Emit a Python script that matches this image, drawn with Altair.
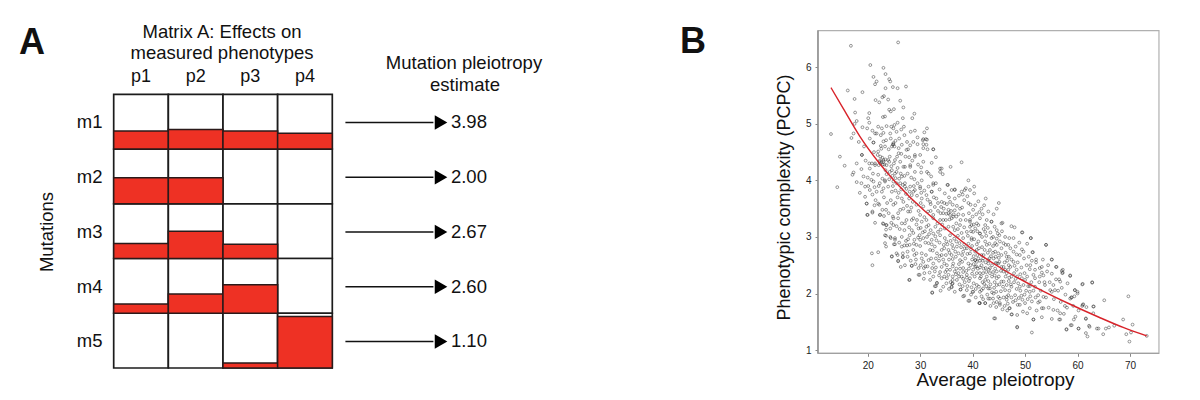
import altair as alt
import pandas as pd

# Panel A values
phenotypes = ["p1", "p2", "p3", "p4"]
mutations = ["m1", "m2", "m3", "m4", "m5"]
pleiotropy = ["3.98", "2.00", "2.67", "2.60", "1.10"]
effects = [
    [0.33, 0.355, 0.33, 0.29],
    [0.475, 0.475, 0.0, 0.0],
    [0.275, 0.50, 0.26, 0.0],
    [0.17, 0.353, 0.523, 0.0],
    [0.0, 0.0, 0.09, 0.94],
]

# Panel B values
curve_x = [13.0, 15.35, 18.5, 22.0, 25.5, 30.6, 35.0, 39.7, 45.9, 52.2, 58.6, 64.1, 68.7, 73.2]
curve_y = [5.64, 5.27, 4.78, 4.33, 3.95, 3.48, 3.14, 2.80, 2.42, 2.10, 1.81, 1.58, 1.40, 1.25]

points = [
 (16.8,6.38),(25.8,6.44),(20.5,6.04),(23,5.99),(23.4,5.88),(21.1,5.83),(24.1,5.79),(24.3,5.75),(21.7,5.75),(21.4,5.7),
 (16.2,5.59),(19,5.56),(23.4,5.63),(24.8,5.65),(25.7,5.63),(27.3,5.66),(17.5,5.44),(21.5,5.42),(22.2,5.38),(22.8,5.47),
 (23.1,5.49),(23.9,5.43),(26.2,5.41),(26.8,5.29),(25,5.26),(24.1,5.25),(24.4,5.22),(17.6,5.2),(20.3,5.19),(20.1,5.1),
 (17.9,5.05),(17.5,5),(28.9,5.18),(28.5,5.1),(26.7,5.1),(23.3,5.13),(22.9,5.12),(13,4.82),(16.9,4.75),(17.3,4.83),
 (18.3,4.68),(19,4.94),(19.9,4.92),(20.3,5.02),(14.7,4.42),(15.6,4.26),(14.2,3.88),(17.9,4.3),(18.9,4.45),(17.3,4.14),
 (17.9,3.97),(17.1,4.1),(31.3,4.92),(30.8,4.85),(29,4.88),(28.2,4.86),(30.6,4.73),(31.3,4.72),(29.5,4.64),(31.2,4.63),
 (32.5,4.55),(30.6,4.57),(33,4.41),(37.9,4.32),(35.8,4.24),(33.8,4.21),(34.1,4.21),(33.8,4.15),(34.3,4.11),(39.2,4),
 (40.3,3.89),(35.3,3.92),(37.9,3.8),(38.5,3.83),(40.3,3.77),(36,3.83),(36.6,3.84),(39.2,3.6),(39.6,3.57),
 (18.9,4.45),(20.4,4.74),(21.4,4.83),(21.1,4.67),(22.5,4.61),(23.5,4.71),(24.8,4.63),(25.5,4.86),(26,4.74),(26.5,4.63),
 (27.7,4.55),(29,4.45),(29.5,4.76),(30.5,4.71),(31.1,4.73),(30.6,4.64),(31.4,4.55),(32.5,4.55),(32.2,4.31),(31.6,4.12),
 (30.2,4.14),(29,4.15),(28.1,4.27),(27.1,4.24),(26.2,4.33),(25.2,4.36),(24.1,4.33),(23,4.33),(22.3,4.35),(21.4,4.3),
 (20.4,4.21),(20.3,4.3),(21.1,3.98),(20.7,4.01),(18.8,3.95),(20.1,3.9),(19.5,3.89),(21.7,3.8),(20.4,3.83),(19.5,3.71),
 (19.8,3.59),(19.9,3.39),(20.9,3.45),(22.2,3.57),(22.7,3.8),(23.3,3.98),(23.9,3.89),(24.9,3.98),(24.6,3.8),(24.4,3.65),
 (24.9,3.57),(23.5,3.48),(22.3,3.39),(24.9,3.33),(25.8,3.42),(26.8,3.62),(26.8,3.5),(27.7,3.45),(28.4,3.74),(29,3.83),
 (30,3.86),(28.1,3.89),(27.1,3.95),(26.2,3.95),(30.3,4),(31.6,3.89),(32.5,3.92),(33,3.95),(33.7,3.84),(32.2,3.8),
 (31.2,3.74),(30.3,3.68),(29.3,3.57),(30.6,3.54),(31.9,3.62),(33.1,3.68),(34.1,3.62),(34.7,3.77),(35.2,3.92),(36.6,3.83),
 (38.7,3.86),(38.4,3.65),(36.6,3.68),(35.7,3.62),(42.5,3.68),(42.2,3.56),(40.5,3.56),(40.1,3.48),(37.6,3.5),(35.4,3.48),
 (34.4,3.42),(35.7,3.39),(36.3,3.36),(38.2,3.39),(39.5,3.3),(41.4,3.33),(42.7,3.3),(33.8,3.3),(32.5,3.33),(31.6,3.21),
 (30,3.39),(28.7,3.33),(27.4,3.3),(26.5,3.24),(24.9,3.21),(23.6,3.21),(36.3,3.18),(39.5,3.18),(41.1,3.21),(34.7,3.15),
 (22.9,3.24),(23.5,3.21),(24.8,3.36),(25.8,3.33),(23.5,3.13),(24.3,3.15),(25.5,3.19),(27.1,3.24),(28.4,3.3),(23.3,3.03),
 (24.4,2.98),(25.2,2.98),(23.3,2.89),(25,2.87),(26.5,2.83),(28,2.86),(28.7,2.77),(25.5,2.71),(24.6,2.65),(25.8,2.58),
 (26.7,2.71),(26.7,2.64),(27.6,2.65),(27.6,2.74),(28.4,2.49),(30.3,2.62),(29.7,2.45),(29.7,2.33),(30.7,2.45),(30.8,2.36),
 (31.8,2.37),(32.8,2.39),(27.9,2.24),(32.3,2.02),(33.2,2.19),(33,2.13),(32.5,2.3),(34.1,2.27),(35.1,2.27),(36.2,2.3),
 (36,2.12),(36.1,2.17),(37.7,2.07),(38.4,1.96),(39.2,1.87),(41.3,1.83),(42.4,1.83),(42,1.9),(38.9,2.06),(40,2.03),
 (41.7,2.06),(43,2.09),(44,2),(45.2,1.91),(45.2,1.8),(43.3,1.91),(46.5,1.89),(46.8,1.97),(30.3,2.71),(29.3,2.71),
 (30,2.95),(30.6,2.98),(31.6,2.89),(32.2,2.95),(32.8,2.83),(31.9,2.77),(33.2,2.71),(34.1,2.68),(35.4,2.77),(36,2.68),
 (37,2.83),(37.3,2.71),(37.6,2.59),(36.3,2.53),(35.1,2.5),(34.1,2.47),(32.5,2.53),(31.6,2.59),(30.6,2.56),(38.2,2.74),
 (39.5,2.71),(40.5,2.59),(40.8,2.77),(39.2,2.53),(38.2,2.45),(37.3,2.36),(36.6,2.39),(40.5,2.47),(40.8,2.36),(39.5,2.27),
 (41.4,2.27),(42.4,2.24),(43.3,2.36),(44.3,2.44),(42.1,2.44),(43,2.53),(44,2.62),(44.9,2.71),(42.1,2.68),(43.3,2.77),
 (44.9,2.53),(45.9,2.39),(46.8,2.42),(44.6,2.27),(45.5,2.21),(46.5,2.15),(34.4,3.3),(35.4,3.18),(32.5,3.06),(33.8,3.03),
 (34.7,2.98),(35.7,3.03),(36.6,3.12),(37.6,3.21),(38.9,3.09),(38.2,2.98),(39.8,2.98),(40.5,3.15),(41.4,3.06),(42.4,2.92),
 (43.6,2.98),(44.3,2.89),(45.2,2.92),(44.6,3.12),(45.5,3.24),(43.6,3.27),(39.5,3.27),(31.2,3.18),(30.3,3.27),(29.7,3.15),
 (35.4,3.42),(36,3.33),(32.5,3.39),(28.1,3.45),(45.7,3.25),(47.4,3.19),(48,3.17),(49.5,3.08),(44.8,3.06),(47,2.98),
 (47.8,2.98),(51.1,2.98),(50.4,2.88),(54,2.86),(49.4,2.78),(51.4,2.73),(47.8,2.74),(48.4,2.69),(49,2.68),(49.8,2.62),
 (52.1,2.6),(53.4,2.6),(55.1,2.6),(51.3,2.58),(50.3,2.5),(52.1,2.55),(55.9,2.47),(57.2,2.42),(57.2,2.37),(58.6,2.32),
 (54.2,2.39),(55.1,2.35),(53.2,2.47),(51.9,2.42),(50.9,2.43),(51.6,2.33),(52.8,2.3),(53.8,2.15),(55.9,2.25),(56.5,2.25),
 (56.7,2.21),(58.1,2.18),(61,2.17),(62.8,2.2),(58.6,1.91),(58.9,1.93),(59.5,2.06),(60,2.03),(61,1.8),(61.7,1.76),
 (63,1.77),(57.6,1.78),(55.1,2.03),(55.7,2.06),(54.8,2.06),(53.5,1.94),(52.8,1.86),(52.5,1.84),(51.3,1.86),(50,1.83),
 (49,1.8),(48.6,1.8),(50.9,1.74),(53.5,1.74),(53.2,1.74),(47.1,1.74),(46.6,1.7),(47.4,1.63),(44.3,1.56),(50.4,1.65),
 (51.6,1.54),(48.5,1.4),(55.4,1.71),(56.2,1.7),(56.7,1.65),(57.4,1.64),(56.5,1.54),(59.3,1.54),(59.6,1.59),(61.6,1.55),
 (57.9,1.37),(58.9,1.44),(60.2,1.38),(62.3,1.41),(64,1.38),(39.8,3.21),(40.8,3.24),(42.4,3.21),(43.6,3.27),(40.1,3.09),
 (41.4,3.06),(42.4,3.09),(43.9,3),(39.8,2.95),(41.1,2.92),(42.7,2.86),(44.6,2.86),(45.9,2.89),(44.3,2.74),(45.5,2.68),
 (46.5,2.65),(47.8,2.56),(40.5,2.74),(41.7,2.68),(43,2.59),(40.5,2.59),(41.7,2.5),(40.1,2.42),(41.4,2.36),(42.7,2.3),
 (43.3,2.45),(44.6,2.53),(44.6,2.39),(45.9,2.47),(46.5,2.36),(47.4,2.3),(48.4,2.42),(49.4,2.27),(49.7,2.15),(48.7,2.18),
 (47.4,2.12),(45.9,2.21),(44.6,2.15),(43.3,2.09),(42,2.09),(40.8,2.15),(40.1,2.03),(41.4,2.03),(43,1.91),(43.9,1.91),
 (44.9,1.94),(45.9,1.93),(46.5,1.94),(45.2,1.83),(42.4,1.83),(41.4,1.83),(48.1,1.97),(50.9,2.03),(52.5,1.97),(49.5,1.89),
 (62.8,2.19),(65.1,1.88),(69.7,1.95),(68.7,1.54),(70.5,1.45),(67,1.43),(66,1.4),(65.4,1.38),(64.9,1.28),(63.7,1.38),
 (69.3,1.28),(70.2,1.31),(69.9,1.15),(73.2,1.25),(61.6,1.3),(61.9,1.24),(60.2,1.38),(58.7,1.44),(57.9,1.36),(62.2,1.43),
 (63.1,1.77),(63,1.65),(61.6,1.56),(60.9,2.16),(59.5,2.06),(60,2),(58.8,1.93),(61.1,1.81),(60.9,1.78),(59.2,1.78),
 (58.6,2.31),(57,2.4),(57.1,2.36),(55.1,2.6),(56,2.47),(54,2.86),(51.5,2.73),(51.1,2.98),(49.4,3.08),(48.5,1.41),
 (51.3,1.31),(44.1,1.56),(47.5,1.63),(47,1.74),(51.6,1.54),(56.7,1.54),
 (21.7,4.83),(21.1,4.67),(22.7,4.92),(23.6,4.96),(24.5,4.95),(25.1,4.98),(25.7,5.02),(24.3,4.83),(24.9,4.64),(25.9,4.57),
 (27.4,4.54),(23,4.69),(22,4.51),(23,4.36),(23.9,4.36),(22.4,4.3),(20.8,4.3),(21.4,4.27),(24.6,4.18),(26.5,4.07),
 (28.1,4.24),(29,4.42),(30,4.45),(30.6,4.33),(26.8,4.24),(25.5,4.15),(23.3,4),(25.5,3.95),(22,4.1),(22.3,3.95),
 (28.7,3.8),(30,3.89),(32.2,3.8),(32.5,3.95),(31.3,4.15),(32.1,4.07),(27.1,3.89),
 (20.8,2.71),(22,2.73),(20.9,2.5),(23.5,2.83),(23.5,3.02),(24.3,3),(25.2,2.95),(25.2,2.87),(24.6,2.66),(25.7,2.68),
 (25.8,2.57),(26.7,2.65),(28,2.24),(29.9,2.33),(32.3,2.01),(36,2.11),(36.2,2.18),(38.2,1.95),(39.4,1.87),(41.3,1.83),
 (37.7,2.07),(33.2,2.18),(32.8,2.13),(28.4,2.49),(19.8,3.59),(20,3.39),(20.9,3.43),(22.4,3.39),(21.3,3.56),(22,3.59),(23,3.23),
 (21.9,4.45),(22.3,4.33),(22.6,4.32),(22.9,4.28),(23.2,4.28),(23.4,4.37),(22.1,4.27),(22.8,4.4),(23.6,4.27),(24.2,4.42),
 (24.5,4.25),(25,4.3),(24.6,4.6),(24.9,4.66),(25.1,4.6),(25.3,4.7),(25.9,4.48),(26.4,4.47),(27.2,4.42),(27.9,4.41),
 (28.5,4.35),(29.6,4.28),(30.2,4.23),(25.7,4.22),(26.3,4.12),(27,4.08),(27.6,4.12),(28.3,4.05),(28.9,4.02),(25.3,4.04),
 (24.7,4.08),(24.1,4.02),(23.6,4.11),(22.8,4.03),(22.1,3.9),(23,3.86),(25.3,3.82),(25.9,3.78),(26.4,3.84),(25.7,3.7),
 (26.5,3.68),(27.3,3.76),(27.9,3.68),(28.6,3.62),(29.4,3.73),(30.1,3.6),(29.7,3.46),(28.3,3.52),(27.5,3.55),(26.2,3.48),
 (25.3,3.6),(23.7,3.6),(23.1,3.7),(21.5,3.65),(22.8,3.48),(21.4,3.25),(23.1,3.37),(24,3.42),(24.5,3.25),(26.1,3.14),
 (27,3.12),(27.9,3.17),(28.7,3.07),(29.3,3.22),(29.9,3.03),(28.9,2.95),(27.7,2.96),(26.5,3),(26,2.9),(27,2.85),
 (27.3,2.93),(29.3,2.86),(30,2.84),(29.2,2.6),(28.9,2.68),(28.2,2.58),(27.1,2.5),(26.3,2.47),(29.1,2.52),(30.1,2.5),
 (31.1,2.68),(31,2.48),(29.4,3.3),(30.8,3.35),(31.2,3.3),(31.5,3.45),(32,3.46),(32.8,3.53),(33.4,3.46),(34,3.53),
 (34.6,3.6),(35.5,3.7),(36.2,3.57),(37,3.55),(37.4,3.73),(38.1,3.75),(39,3.72),(39.5,3.83),(41.1,3.63),(41.7,3.5),
 (41.9,3.4),(43,3.45),(44,3.4),(44.6,3.5),(45,3.6),
 (30.9,3.1),(31.3,3),(32,3.12),(32.9,3.18),(33.3,3.24),(33.9,3.13),(34.2,3.22),(34.9,3.3),(35,3.41),(35.6,3.31),
 (36.4,3.4),(36.9,3.24),(37.2,3.14),(37.9,3.07),(37.2,3.02),(36.5,2.97),(35.8,2.93),(35.2,2.87),(34.5,2.86),(33.7,2.9),
 (33.1,2.94),(32.4,2.76),(33,2.62),(33.6,2.58),(34.4,2.6),(34.9,2.68),(35.5,2.6),(36.2,2.61),(36.8,2.65),(37.4,2.52),
 (38,2.56),(38.6,2.62),(38.9,2.8),(39.2,2.88),(39.9,2.84),(38.4,2.87),(37.8,2.82),(36.3,2.8),(36.7,2.74),(35.7,2.42),
 (34.8,2.38),(33.8,2.38),(33,2.46),(38.8,2.4),(39.3,2.44),(39.9,2.35),(37.9,2.3),(37,2.24),(38.5,2.2),(39,2.13),
 (40.2,2.18),(38.1,2.13),(37.5,2.16),(35,2.18),(34.4,2.12),(35.5,2.08),(33.9,2.05),(36.6,2.03),
 (40.3,2.96),(40.8,2.87),(41.2,2.8),(41.8,2.82),(42.3,2.77),(42.9,2.72),(43.5,2.66),(43.9,2.84),(44.6,2.97),(45.1,3.03),
 (45.6,3.1),(46.2,3),(46.8,2.86),(47.2,2.8),(46.3,2.72),(45.5,2.8),(45,2.63),(44.4,2.54),(43.7,2.5),(42.5,2.45),
 (41.9,2.58),(41.1,2.62),(40.7,2.48),(39.9,2.6),(40.4,2.3),(41,2.44),(41.6,2.3),(42.2,2.17),(43,2.22),(43.7,2.3),
 (44.2,2.2),(45,2.3),(45.4,2.4),(46.1,2.55),(46.9,2.5),(47.4,2.6),(48,2.49),(48.6,2.55),(49.3,2.46),(49.9,2.36),
 (47,2.28),(47.9,2.2),(48.4,2.08),(47,2.05),(46.2,2.06),(45.4,2.04),(44.5,2.03),(43.7,2.02),(49.1,2.05),(49.9,1.98),
 (50.6,2.13),(50.4,2.3),(51.2,2.2),(51.9,2.12),(48.8,1.92),(47.7,1.85),(46.7,1.82),(43.4,1.78),(44.5,1.76),(45.7,1.72),
 (42.8,1.98),(41.7,1.95),(40.6,1.93),(39.7,1.98),
 (52.8,2.45),(53.5,2.32),(54.4,2.5),(54.7,2.2),(55.4,2.15),(53,2.05),(52,1.93),(51,1.95),(50.5,1.9),(54,1.93),
 (55.5,1.9),(56.3,2.05),(57,2.1),(57.7,1.98),(56.8,1.85),(58,1.75),(59.4,1.95),(60.2,1.7),(54.5,1.75),(52.2,1.7),
 (49.6,1.68),(48.5,1.62),(53.2,1.58),(55.1,1.55),
 (22,4.95),(22.5,4.8),(23,4.84),(23.3,4.6),(24,4.55),(24.4,4.74),(25.6,4.42),(26.4,4.9),(27,4.8),(27.5,4.68),
 (28.1,4.62),(28.7,4.68),(26.9,4.95),(24.9,4.92),(22.6,4.56),(21.2,4.5),(20.9,4.88),(19.3,4.6),(19.6,4.35),(18.8,4.2),
 (19.2,4.07),(18.5,3.78),(20.9,3.75),(21.3,3.88),(21,4.12),(20,4.05),
 # dense clusters near the fit
 (22.4,4.42),(23.4,4.18),(24.2,4.15),(24.8,3.9),(25.2,4.12),(26,4.03),(26.7,3.92),(27.4,3.85),(28,3.8),(28.8,3.9),
 (29.5,3.95),(30.2,3.78),(30.8,3.82),(31.4,3.66),(32,3.58),(32.6,3.7),(33.4,3.6),(33.9,3.42),(34.5,3.5),(35.1,3.58),
 (35.9,3.46),(36.6,3.47),(37.3,3.4),(38,3.52),(38.7,3.3),(39.3,3.42),(40,3.36),(40.7,3.4),(41.3,3.44),(42.1,3.14),
 (42.9,3.16),(43.4,3.08),(44.2,3.18),(36.9,3.36),(37.7,3.3),(38.4,3.17),(39.1,3.02),(39.7,3.1),(40.2,3.22),(40.9,3.1),
 (41.8,3),(42.6,3.02),(43.2,2.88),(33.4,3.09),(32.9,3.01),(32.2,2.87),(31.7,3.05),(31,2.9),(30.5,3.08),(30.1,3.16),
 (29.6,2.99),(28.4,3.12),(28,3.03),(27.5,2.85),(28.8,2.88),(34.1,2.77),(34.6,2.8),(35,2.92),(35.6,2.72),(36.1,2.86),
 (36.9,2.92),(37.5,2.89),(38,2.68),(38.5,2.8),(39,2.7),(39.7,2.78),(40.2,2.66),(40.9,2.68),(41.4,2.58),(42,2.62),
 (42.5,2.55),(43.2,2.62),(43.9,2.72),(44.4,2.65),(45.1,2.56),(45.5,2.47),(46.2,2.42),(46.6,2.58),(47.2,2.47),(47.9,2.36),
 (48.5,2.3),(49.1,2.34),(36.2,2.48),(36.9,2.44),(37.6,2.44),(38.2,2.38),(38.9,2.33),(39.6,2.5),(40.2,2.52),(40.8,2.56),
 (41.4,2.46),(42,2.36),(42.6,2.38),(43.1,2.42),(43.9,2.38),(44.2,2.32),(45.1,2.16),(45.8,2.12),(44.1,2.1),(43.4,2.16),
 (42.6,2.13),(41.9,2.2),(41.2,2.12),(40.6,2.08),(39.8,2.11),(39.3,2.22),(38.9,2.28),(38.2,2.26),(37.4,2.3),(36.8,2.34),
 (36.2,2.24),(35.4,2.33),(35.8,2.2),(34.6,2.3),(33.6,2.32),(34.6,2.53),(33.7,2.66),(35.1,2.42),(32.1,2.62),(32.3,2.45),
 (31.4,2.48),(31.9,2.24),(30.7,2.26),(46.9,2.22),(46.3,2.3),(47.3,2.16),(48.2,2.26),(49,2.12),(50,2.24),(50.9,2.13),
 (51.6,2.05),(50.2,2.05),(49.3,1.96),(48.2,1.88),(47.4,1.93),(46.1,1.78),(44.6,1.85),(44,1.83),(53.7,2.2),(52.7,2.2),
 (51.9,2.27),(53.2,2.37),(50.7,2.65),(51,2.5),(49.7,2.74),(48.9,2.9),(48.2,2.83),(46.9,2.65),(46.3,2.86),
]
points_x = [p[0] for p in points]
points_y = [p[1] for p in points]

FONT = "Liberation Sans"
W, H = 1184, 384

# Panel A scales: one unit is one matrix column / row
ax = alt.Scale(domain=[-1.934, 19.731], nice=False, zero=False)
ay = alt.Scale(domain=[-1.5766, 5.4385], range=[0, H], nice=False, zero=False)
# Panel B scales
bx = alt.Scale(domain=[-143.91, 81.83], nice=False, zero=False)
by = alt.Scale(domain=[7.0486, 0.2582], range=[0, H], nice=False, zero=False)


def AX(f):
    return alt.X(f, type="quantitative", scale=ax, axis=None)


def AY(f):
    return alt.Y(f, type="quantitative", scale=ay, axis=None)


def BX(f, axis=None):
    return alt.X(f, type="quantitative", scale=bx, axis=axis)


def BY(f, axis=None):
    return alt.Y(f, type="quantitative", scale=by, axis=axis)


rows = []
for r, m in enumerate(mutations):
    for c, p in enumerate(phenotypes):
        e = effects[r][c]
        rows.append(dict(c0=c, c1=c + 1, r0=r, r1=r + 1, top=r + 1 - e, has=e > 0))
cells = pd.DataFrame(rows)

grid = alt.Chart(cells).mark_rect(fill="white", stroke="#1c1c1c", strokeWidth=1.7).encode(
    x=AX("c0"), x2="c1", y=AY("r0"), y2="r1")
fills = alt.Chart(cells[cells.has]).mark_rect(fill="#EE3124", stroke="#2a1a1a", strokeWidth=1.5).encode(
    x=AX("c0"), x2="c1", y=AY("top"), y2="r1")

rowdf = pd.DataFrame(dict(m=mutations, v=pleiotropy, mid=[i + 0.515 for i in range(5)],
                          lab=[-0.44] * 5, a0=[4.24] * 5, a1=[5.85] * 5, tip=[5.99] * 5, val=[6.5] * 5))
coldf = pd.DataFrame(dict(p=phenotypes, mid=[i + 0.5 for i in range(4)], yy=[-0.31] * 4))

row_lab = alt.Chart(rowdf).mark_text(font=FONT, fontSize=18.5, color="#111111", align="center", baseline="middle").encode(
    x=AX("lab"), y=AY("mid"), text="m:N")
col_lab = alt.Chart(coldf).mark_text(font=FONT, fontSize=18, color="#111111", align="center", baseline="middle").encode(
    x=AX("mid"), y=AY("yy"), text="p:N")
arrow = alt.Chart(rowdf).mark_rule(color="#111111", strokeWidth=1.4).encode(x=AX("a0"), x2="a1", y=AY("mid"))
head = alt.Chart(rowdf).mark_point(shape="triangle-right", filled=True, fill="#000000", stroke="#000000", strokeWidth=0, size=210, opacity=1).encode(
    x=AX("tip"), y=AY("mid"))
val_lab = alt.Chart(rowdf).mark_text(font=FONT, fontSize=18.5, color="#111111", align="center", baseline="middle").encode(
    x=AX("val"), y=AY("mid"), text="v:N")


def note(t, px, py, size=18.5, angle=0, weight="normal"):
    kw = dict(angle=angle) if angle else {}
    return alt.Chart(pd.DataFrame(dict(t=[t]))).mark_text(
        font=FONT, fontSize=size, fontWeight=weight, color="#111111", align="center", baseline="middle", **kw
    ).encode(x=alt.value(px - 8), y=alt.value(py - 8), text="t:N")


notes = [
    note("A", 32, 43, 36, weight="bold"),
    note("B", 693, 42, 36, weight="bold"),
    note("Matrix A: Effects on", 222, 32),
    note("measured phenotypes", 222, 53),
    note("Mutation pleiotropy", 464, 63),
    note("estimate", 465, 85),
    note("Mutations", 47, 232, angle=270),
]

# Panel B
frame = pd.DataFrame(dict(x0=[10.52], x1=[75.53], y0=[0.94], y1=[6.65]))
box = alt.Chart(frame).mark_rect(fill="white", stroke="#b0b0b0", strokeWidth=1.2).encode(
    x=BX("x0"), x2="x1", y=BY("y0"), y2="y1")
left = alt.Chart(frame).mark_rule(color="#808080", strokeWidth=1.2).encode(x=BX("x0"), y=BY("y0"), y2="y1")
bottom = alt.Chart(frame).mark_rule(color="#a0a0a0", strokeWidth=1.2).encode(x=BX("x0"), x2="x1", y=BY("y0"))

pts = pd.DataFrame(dict(x=points_x, y=points_y))
x_axis = alt.Axis(values=[20, 30, 40, 50, 60, 70], offset=-38.7, domain=False, grid=False, tickSize=3, tickColor="#888888",
                  labelFont=FONT, labelFontSize=10, labelColor="#222222", labelPadding=4,
                  title="Average pleiotropy", titleFont=FONT, titleFontSize=19, titleFontWeight="normal",
                  titleColor="#111111", titlePadding=0, titleX=987)
y_axis = alt.Axis(values=[1, 2, 3, 4, 5, 6], offset=-810, domain=False, grid=False, tickSize=3, tickColor="#888888",
                  labelFont=FONT, labelFontSize=10, labelColor="#222222", labelPadding=4,
                  title="Phenotypic complexity (PCPC)", titleFont=FONT, titleFontSize=18, titleFontWeight="normal",
                  titleColor="#111111", titlePadding=12, titleY=189)
scatter = alt.Chart(pts).mark_point(shape="circle", filled=False, size=8, stroke="#2a2a2a", strokeWidth=0.6, opacity=0.8).encode(
    x=BX("x", x_axis), y=BY("y", y_axis))
curve = pd.DataFrame(dict(x=curve_x, y=curve_y))
fit = alt.Chart(curve).mark_line(color="#D8232A", strokeWidth=1.4, interpolate="monotone").encode(
    x=BX("x"), y=BY("y"))

chart = alt.layer(
    grid, fills, row_lab, col_lab, arrow, head, val_lab, *notes, box, left, bottom, scatter, fit
).resolve_scale(x="independent", y="independent").properties(
    width=W, height=H, padding=0, autosize=alt.AutoSizeParams(type="none")
).configure_view(stroke=None)

chart.save("out.html", embed_options={"renderer": "svg", "actions": False})
